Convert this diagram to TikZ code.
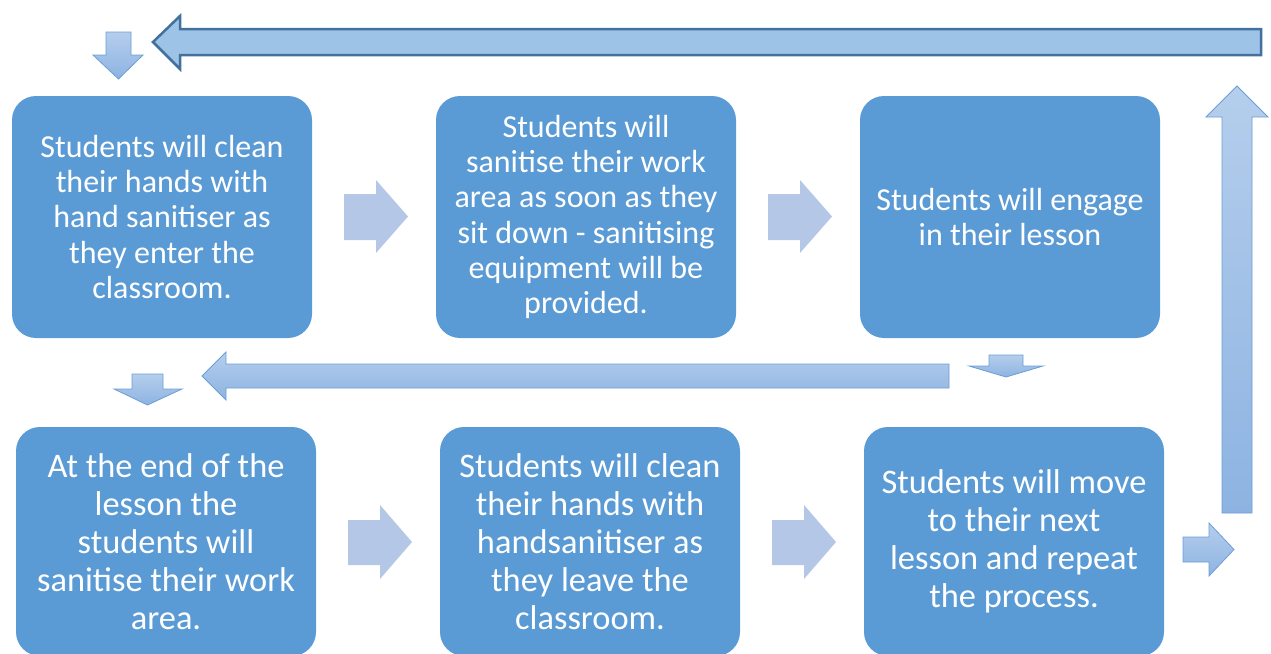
\documentclass[tikz,border=0pt]{standalone}
\usepackage{fontspec}
\setmainfont{Carlito}
\usetikzlibrary{positioning}

\definecolor{cardblue}{HTML}{5B9BD5}
\definecolor{chevblue}{HTML}{B4C7E7}
\definecolor{loopfill}{HTML}{9DC3E6}
\definecolor{loopline}{HTML}{41719C}
\definecolor{shadetop}{HTML}{B5CEEC}
\definecolor{shadebot}{HTML}{8DB3E2}
\definecolor{thinline}{HTML}{6A9ED6}

\begin{document}
\begin{tikzpicture}[x=1pt,y=-1pt,
    card/.style={fill=cardblue, text=white, rounded corners=24pt, minimum width=300pt, inner sep=0pt, align=center},
    upper/.style={card, minimum height=242pt, font=\fontsize{32}{35.3}\selectfont},
    lower/.style={card, minimum height=229pt, font=\fontsize{34.4}{38}\selectfont},
    chevron/.style={fill=chevblue},
    shaded/.style={top color=shadetop, bottom color=shadebot, draw=thinline, line width=0.8pt},
    back/.style={fill=loopfill, draw=loopline, line width=2.5pt}]
    \useasboundingbox (0,0) rectangle (1271,653);
    \begin{scope}
    \clip (0,0) rectangle (1271,653);
        \node [upper] (clean) at (162,217) {Students will clean\\their hands with\\hand sanitiser as\\they enter the\\classroom.};
        \node [upper] (wipe) at (586,217) {Students will\\sanitise their work\\area as soon as they\\sit down - sanitising\\equipment will be\\provided.};
        \node [upper] (lesson) at (1010,217) {Students will engage\\in their lesson};
        \node [lower] (endwipe) at (166,541.5) {At the end of the\\lesson the\\students will\\sanitise their work\\area.};
        \node [lower] (leave) at (590,541.5) {Students will clean\\their hands with\\handsanitiser as\\they leave the\\classroom.};
        \node [lower] (move) at (1014,541.5) {Students will move\\to their next\\lesson and repeat\\the process.};
    \end{scope}

    % arrows between the cards
    \foreach \dx in {0,424} {
        \fill [chevron] (344+\dx,194) -- (376+\dx,194) -- (376+\dx,180) -- (408+\dx,216.5) -- (376+\dx,253) -- (376+\dx,240) -- (344+\dx,240) -- cycle;
        \fill [chevron] (348+\dx,520) -- (380+\dx,520) -- (380+\dx,505) -- (412+\dx,542) -- (380+\dx,579) -- (380+\dx,565) -- (348+\dx,565) -- cycle;
    }

    % way back round
    \draw [shaded] (1183,537) -- (1209,537) -- (1209,523) -- (1234,549.5) -- (1209,576) -- (1209,562) -- (1183,562) -- cycle;
    \draw [shaded] (1222,513) -- (1222,117) -- (1206,117) -- (1237,86) -- (1268,117) -- (1252,117) -- (1252,513) -- cycle;
    \draw [back] (1261,29) -- (180,29) -- (180,16) -- (153,42) -- (180,69) -- (180,55) -- (1261,55) -- cycle;
    \draw [shaded] (106,32) -- (131,32) -- (131,55) -- (143,55) -- (118.5,79) -- (93,55) -- (106,55) -- cycle;

    % second row
    \draw [shaded] (989,355) -- (1023,355) -- (1023,366) -- (1043,366) -- (1006,377) -- (969,366) -- (989,366) -- cycle;
    \draw [shaded] (949,364) -- (226,364) -- (226,352) -- (202,376) -- (226,400) -- (226,388) -- (949,388) -- cycle;
    \draw [shaded] (132,374) -- (163,374) -- (163,389) -- (182,389) -- (147.5,405) -- (114,389) -- (132,389) -- cycle;
\end{tikzpicture}
\end{document}
